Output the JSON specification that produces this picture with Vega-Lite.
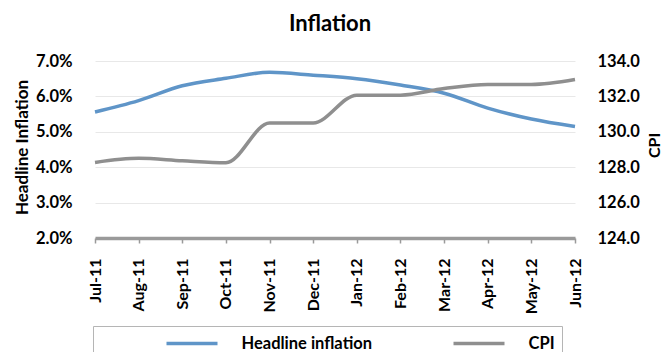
{
  "$schema": "https://vega.github.io/schema/vega-lite/v6.json",
  "autosize": {"type": "none"},
  "width": 480,
  "height": 177,
  "padding": {"left": 95, "top": 61, "right": 87, "bottom": 114},
  "background": "white",
  "config": {
    "view": {"stroke": null},
    "font": "Lato"
  },
  "title": {
    "text": "Inflation",
    "font": "Lato",
    "fontSize": 22,
    "fontWeight": "bold",
    "color": "black",
    "anchor": "middle",
    "baseline": "alphabetic",
    "offset": 0,
    "dx": -5
  },
  "data": {
    "values": [
      {"month": "Jul-11", "Headline inflation": 0.0556, "CPI": 128.27},
      {"month": "Aug-11", "Headline inflation": 0.0588, "CPI": 128.50},
      {"month": "Sep-11", "Headline inflation": 0.0630, "CPI": 128.36},
      {"month": "Oct-11", "Headline inflation": 0.0651, "CPI": 128.25},
      {"month": "Nov-11", "Headline inflation": 0.0668, "CPI": 130.50},
      {"month": "Dec-11", "Headline inflation": 0.0660, "CPI": 130.50},
      {"month": "Jan-12", "Headline inflation": 0.0650, "CPI": 132.07},
      {"month": "Feb-12", "Headline inflation": 0.0632, "CPI": 132.07},
      {"month": "Mar-12", "Headline inflation": 0.0609, "CPI": 132.44},
      {"month": "Apr-12", "Headline inflation": 0.0567, "CPI": 132.67},
      {"month": "May-12", "Headline inflation": 0.0536, "CPI": 132.67},
      {"month": "Jun-12", "Headline inflation": 0.0515, "CPI": 132.95}
    ]
  },
  "encoding": {
    "x": {
      "field": "month",
      "type": "nominal",
      "sort": null,
      "scale": {"type": "point", "padding": 0},
      "axis": {
        "title": null,
        "labelAngle": -90,
        "labelFont": "Lato",
        "labelFontSize": 16,
        "labelFontWeight": "bold",
        "labelColor": "black",
        "labelPadding": 15,
        "domainColor": "#9a9a9a",
        "domainWidth": 3.5,
        "tickColor": "#9a9a9a",
        "tickWidth": 1.5,
        "tickSize": 5,
        "grid": false
      }
    },
    "color": {
      "field": "series",
      "type": "nominal",
      "scale": {"domain": ["Headline inflation", "CPI"], "range": ["#5f95c8", "#8f8f8f"]},
      "legend": {
        "orient": "none",
        "legendX": -2,
        "legendY": 265,
        "direction": "horizontal",
        "columns": 2,
        "columnPadding": 73,
        "padding": 7,
        "strokeColor": "#b5b5b5",
        "title": "\u00a0",
        "titleOrient": "left",
        "titlePadding": 64,
        "titleFontSize": 16.5,
        "symbolType": "M-3,0H3",
        "symbolSize": 289,
        "symbolOffset": 17.5,
        "symbolStrokeWidth": 3.5,
        "labelFont": "Lato",
        "labelFontSize": 16.5,
        "labelFontWeight": "bold",
        "labelColor": "black",
        "labelOffset": 39,
        "labelExpr": "datum.label == 'CPI' ? 'CPI\u00a0\u00a0\u00a0\u00a0\u00a0\u00a0\u00a0\u00a0\u00a0\u00a0\u00a0\u00a0\u00a0\u00a0\u00a0\u00a0\u00a0\u00a0' : datum.label"
      }
    }
  },
  "layer": [
    {
      "transform": [{"fold": ["Headline inflation"], "as": ["series", "value"]}],
      "mark": {"type": "line", "strokeWidth": 3.5, "interpolate": "monotone"},
      "encoding": {
        "y": {
          "field": "value",
          "type": "quantitative",
          "scale": {"domain": [0.02, 0.07], "nice": false, "zero": false},
          "axis": {
            "title": "Headline Inflation",
            "titleFont": "Lato",
            "titleFontSize": 17,
            "titleFontWeight": "bold",
            "titleColor": "black",
            "titleAngle": 270,
            "titleAlign": "center",
            "titleBaseline": "middle",
            "titleX": -73,
            "titleY": 86,
            "format": ".1%",
            "values": [0.02, 0.03, 0.04, 0.05, 0.06, 0.07],
            "labelFont": "Lato",
            "labelFontSize": 16.5,
            "labelFontWeight": "bold",
            "labelColor": "black",
            "labelPadding": 23,
            "domain": false,
            "ticks": false,
            "grid": true,
            "gridColor": "#e8e8e8",
            "gridWidth": 1
          }
        }
      }
    },
    {
      "transform": [{"fold": ["CPI"], "as": ["series", "value"]}],
      "mark": {"type": "line", "strokeWidth": 3.5, "interpolate": "monotone"},
      "encoding": {
        "y": {
          "field": "value",
          "type": "quantitative",
          "scale": {"domain": [124, 134], "nice": false, "zero": false},
          "axis": {
            "orient": "right",
            "title": "CPI",
            "titleFont": "Lato",
            "titleFontSize": 16,
            "titleFontWeight": "bold",
            "titleColor": "black",
            "titleAngle": 270,
            "titleAlign": "center",
            "titleBaseline": "middle",
            "titleX": 79,
            "titleY": 84,
            "format": ".1f",
            "values": [124, 126, 128, 130, 132, 134],
            "labelFont": "Lato",
            "labelFontSize": 16.5,
            "labelFontWeight": "bold",
            "labelColor": "black",
            "labelPadding": 22,
            "domain": false,
            "ticks": false,
            "grid": false
          }
        }
      }
    }
  ],
  "resolve": {"scale": {"y": "independent"}}
}
